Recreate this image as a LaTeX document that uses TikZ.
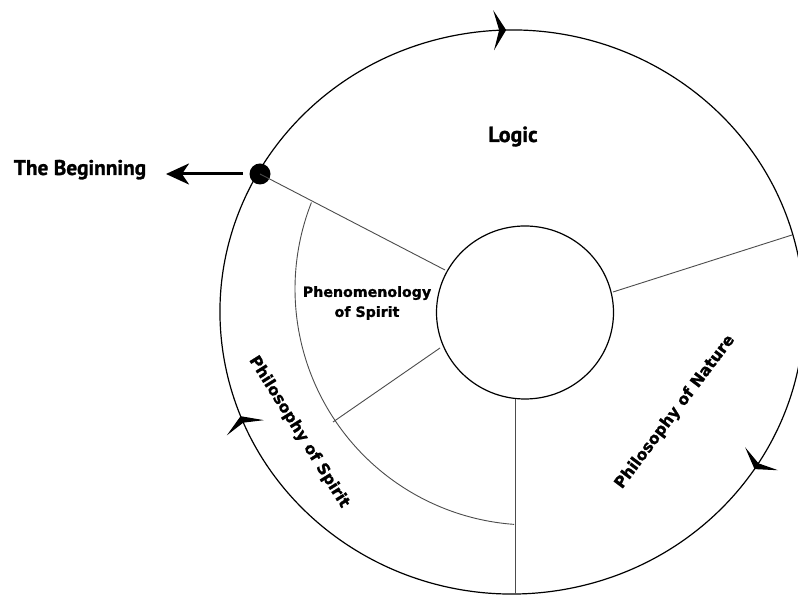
\documentclass[tikz,border=0pt]{standalone}
\usepackage{fontspec}
\setmainfont{DejaVu Sans}[BoldFeatures={FakeBold=1.2}]
\newfontfamily\ptsans{PT Sans}[BoldFeatures={FakeBold=1.2}]
\usetikzlibrary{arrows.meta,decorations.markings}
\tikzset{cyc/.tip={Stealth[length=12.5pt,width=40pt,inset=5.5pt]}}
\begin{document}
\begin{tikzpicture}[x=1pt,y=1pt,
  ring/.style={line width=1.2pt, black},
  spoke/.style={line width=0.9pt, black!70},
  headlbl/.style={font=\ptsans\bfseries\fontsize{21.3}{24}\selectfont, inner sep=0pt, anchor=base},
  seclbl/.style={font=\bfseries\fontsize{15.8}{18}\selectfont, inner sep=0pt},
  phenlbl/.style={font=\bfseries\fontsize{14.2}{20}\selectfont, inner sep=0pt, align=center}]
\useasboundingbox (0,0) rectangle (798,596);
\fill[white] (0,0) rectangle (798,596);

% key points
\coordinate (O) at (512,284);
\coordinate (I) at (525,283.5);
\coordinate (M) at (531,307);
\coordinate (p1) at (445,326);
\coordinate (q1) at (613,304);
\coordinate (q2) at (792,361);
\coordinate (r1) at (440,248);
\coordinate (r2) at (333,174);
\coordinate (s1) at (515,197);
\coordinate (s2) at (515,2);
\coordinate (bs) at (243,422);
\coordinate (be) at (166,422);

% outer cycle with direction marks
\draw[ring, postaction={decorate}, decoration={markings,
    mark=at position 0.025 with {\arrow{cyc}},
    mark=at position 0.371 with {\arrow{cyc}},
    mark=at position 0.719 with {\arrow{cyc}}}]
  (O) ++(100:292pt and 282pt) arc[start angle=100, end angle=-260, x radius=292pt, y radius=282pt];

% inner circle
\draw[ring] (I) ellipse [x radius=88.5pt, y radius=86.5pt];

% middle arc
\draw[spoke] (M) ++(158.5:236pt) arc[start angle=158.5, end angle=265.9, radius=236pt];

% spokes
\node[circle, fill=black, minimum size=21pt, inner sep=0pt] (dot) at (260,422) {};
\draw[spoke] (dot.center) -- (p1);
\draw[spoke] (q1) -- (q2);
\draw[spoke] (r1) -- (r2);
\draw[spoke] (s1) -- (s2);

% the beginning
\draw[line width=3pt, -{Stealth[length=23pt,width=21pt,inset=7pt]}] (bs) -- (be);

% labels
\node[headlbl] (beg) at (80,421) {The Beginning};
\node[headlbl, font=\ptsans\bfseries\fontsize{21.8}{24}\selectfont] (logic) at (513,454) {Logic};
\node[phenlbl] (phen) at (367,293) {Phenomenology\\of Spirit};
\node[seclbl, rotate=53] (nat) at (675,184) {Philosophy of Nature};
\node[seclbl, rotate=-58] (spi) at (299,164) {Philosophy of Spirit};
\end{tikzpicture}
\end{document}
